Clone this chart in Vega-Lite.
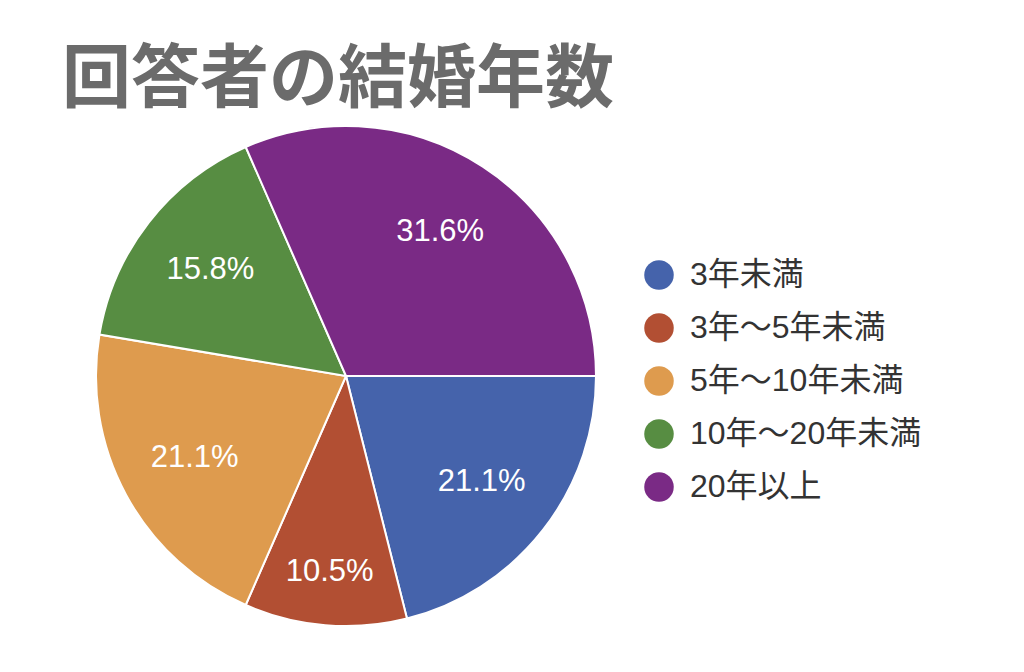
{
  "$schema": "https://vega.github.io/schema/vega-lite/v6.json",
  "width": 500,
  "height": 500,
  "autosize": {"type": "none"},
  "padding": {"left": 96, "top": 126, "right": 428, "bottom": 46},
  "background": "white",
  "title": {
    "text": "回答者の結婚年数",
    "anchor": "start",
    "frame": "group",
    "dx": -34,
    "offset": -49,
    "baseline": "alphabetic",
    "font": "Noto Sans CJK JP",
    "fontSize": 69,
    "fontWeight": "bold",
    "color": "#6b6b6b"
  },
  "data": {
    "values": [
      {"category": "3年未満", "order": 1, "percent": 0.211},
      {"category": "3年〜5年未満", "order": 2, "percent": 0.105},
      {"category": "5年〜10年未満", "order": 3, "percent": 0.211},
      {"category": "10年〜20年未満", "order": 4, "percent": 0.158},
      {"category": "20年以上", "order": 5, "percent": 0.316}
    ]
  },
  "encoding": {
    "theta": {"field": "percent", "type": "quantitative", "stack": true, "scale": {"range": [1.5708, 7.854]}},
    "order": {"field": "order", "type": "quantitative"},
    "color": {
      "field": "category",
      "type": "nominal",
      "sort": ["3年未満", "3年〜5年未満", "5年〜10年未満", "10年〜20年未満", "20年以上"],
      "scale": {
        "domain": ["3年未満", "3年〜5年未満", "5年〜10年未満", "10年〜20年未満", "20年以上"],
        "range": ["#4563ab", "#b24f33", "#de9b4e", "#578d42", "#7a2a85"]
      },
      "legend": {
        "title": null,
        "orient": "none",
        "legendX": 547,
        "legendY": 133,
        "padding": 0,
        "symbolType": "circle",
        "symbolSize": 870,
        "symbolStrokeWidth": 0,
        "labelFont": "Liberation Sans, Noto Sans CJK JP",
        "labelFontSize": 32,
        "labelColor": "#333333",
        "labelOffset": 15,
        "rowPadding": 21,
        "labelLimit": 400
      }
    }
  },
  "layer": [
    {
      "mark": {"type": "arc", "outerRadius": 250, "stroke": "white", "strokeWidth": 2}
    },
    {
      "mark": {"type": "text", "fill": "white", "font": "Liberation Sans", "fontSize": 31, "radius": {"expr": "datum.percent < 0.12 ? 197 : 172"}},
      "encoding": {
        "text": {"field": "percent", "type": "quantitative", "format": ".1%"},
        "color": {"value": "white"}
      }
    }
  ],
  "config": {"view": {"stroke": null}}
}
